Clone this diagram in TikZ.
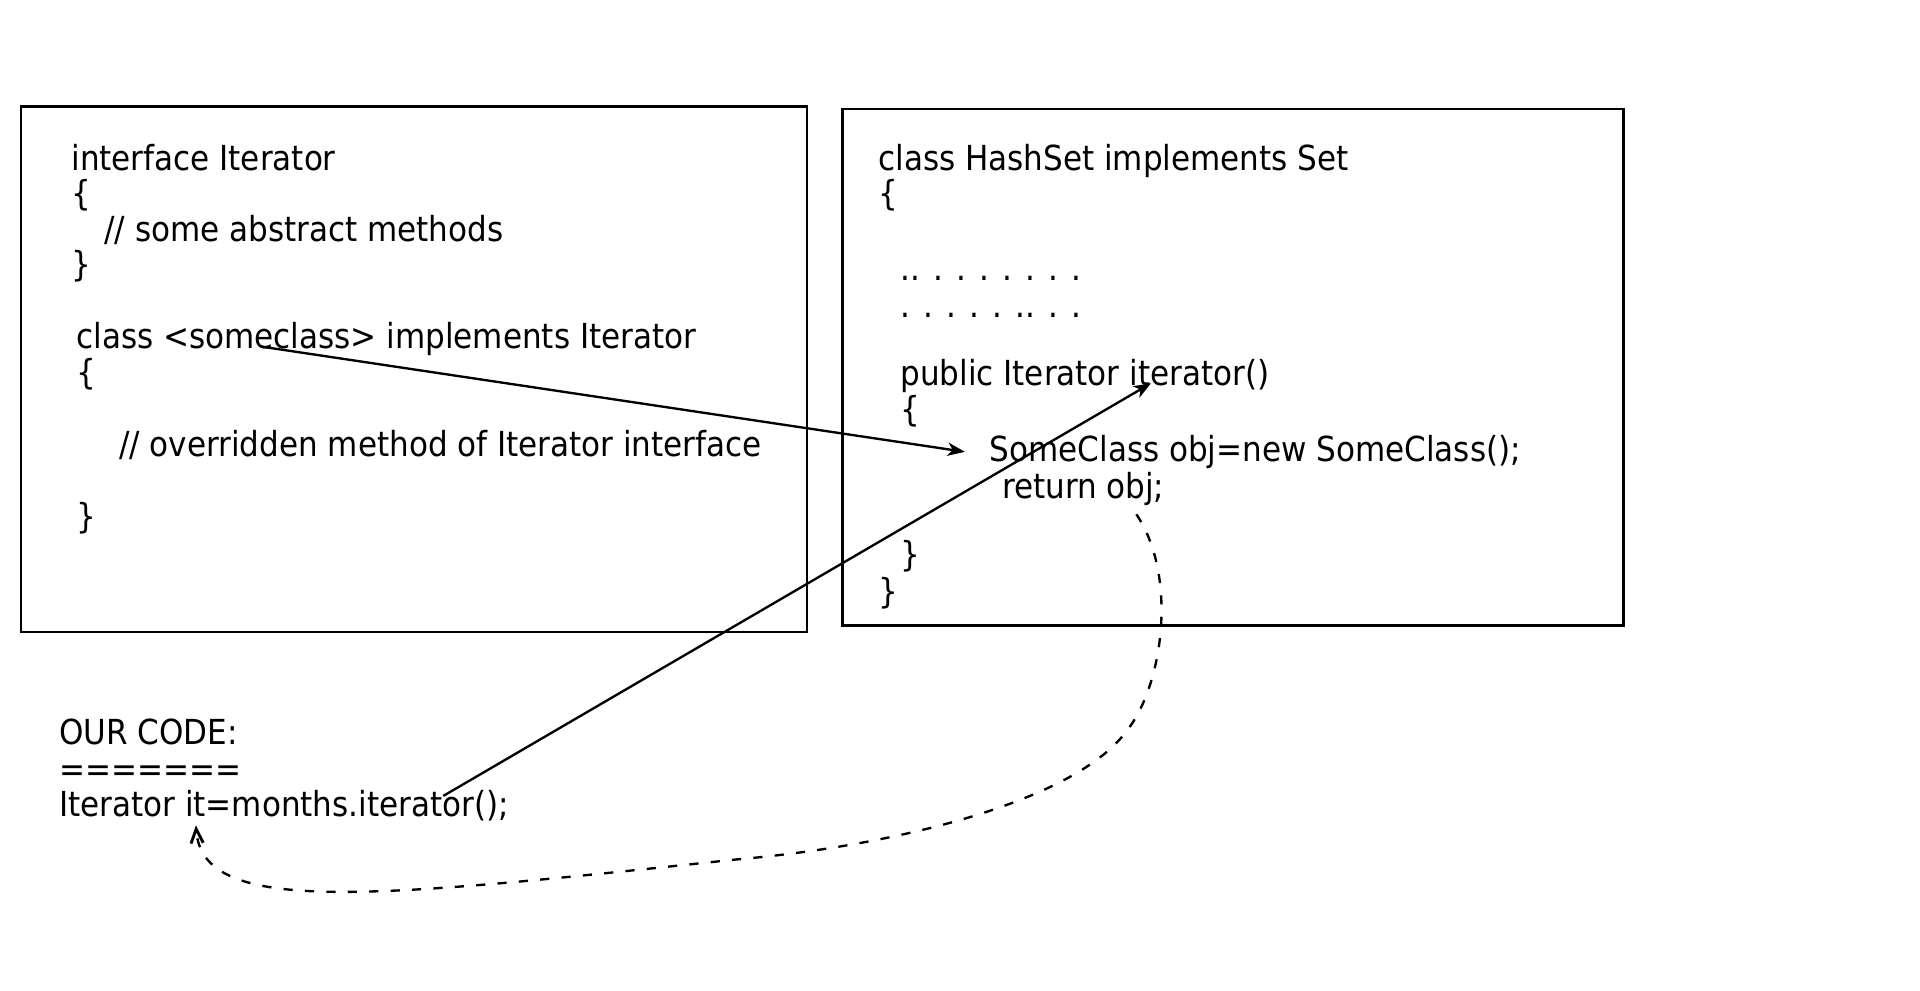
\documentclass[tikz,border=0pt]{standalone}
\usepackage{fontspec}
\setmainfont{DejaVu Sans Condensed}
\usetikzlibrary{arrows.meta,fit}

\begin{document}
\begin{tikzpicture}[x=0.6pt,y=-0.6pt,
  codeline/.style={anchor=base west,inner sep=0pt,font=\fontsize{16.9}{20}\selectfont},
  frame/.style={draw,line width=1.25pt,inner sep=0pt},
  link/.style={line width=1.15pt,-{Stealth[length=8.5pt,width=6.5pt,inset=2.5pt]}},
  giveback/.style={line width=1.15pt,dash pattern=on 4.5pt off 6pt,-{Straight Barb[length=7pt,width=6pt,line width=1.4pt]}}]

% canvas
\useasboundingbox (0,0) rectangle (1568,809);

% frames of the two code panels
\coordinate (lbA) at (17,87);   \coordinate (lbB) at (659,516);
\coordinate (rbA) at (688,89);  \coordinate (rbB) at (1326,511);
\node[frame,fit=(lbA)(lbB)] (leftbox) {};
\node[frame,fit=(rbA)(rbB)] (rightbox) {};

% interface and implementing class
\node[codeline] (l1) at (58,139) {interface Iterator};
\node[codeline] (l2) at (58,168) {\{};
\node[codeline] (l3) at (85,197) {// some abstract methods};
\node[codeline] (l4) at (58,226) {\}};
\node[codeline] (l5) at (62,285) {class <someclass> implements Iterator};
\node[codeline] (l6) at (62,314) {\{};
\node[codeline] (l7) at (97,373) {// overridden method of Iterator interface};
\node[codeline] (l8) at (62,432) {\}};

% HashSet
\node[codeline] (r1) at (717,139) {class HashSet implements Set};
\node[codeline] (r2) at (717,168) {\{};
\node[codeline] (r3) at (735,229) {.. . . . . . . .};
\node[codeline] (r4) at (735,259) {. . . . . .. . .};
\node[codeline] (r5) at (735,315) {public Iterator iterator()};
\node[codeline] (r6) at (735,344) {\{};
\node[codeline] (r7) at (808,377) {SomeClass obj=new SomeClass();};
\node[codeline] (r8) at (818,407) {return obj;};
\node[codeline] (r9) at (735,463) {\}};
\node[codeline] (r10) at (717,493) {\}};

% caller
\node[codeline] (b1) at (48,608) {OUR CODE:};
\node[codeline] (b2) at (48,638) {=======};
\node[codeline] (b3) at (48,667) {Iterator it=months.iterator();};

% connector ends
\coordinate (someclass) at (213,283);
\coordinate (newobj) at (788,369);
\coordinate (callsite) at (362,650);
\coordinate (itermethod) at (940,313);
\coordinate (retobj) at (928,420);
\coordinate (bend1) at (920,597);
\coordinate (bend2) at (600,702);
\coordinate (itvar) at (160,674);

\draw[link] (someclass) -- (newobj);
\draw[link] (callsite) -- (itermethod);
\draw[giveback] (retobj) .. controls (962,470) and (950,560) .. (bend1)
  .. controls (880,652) and (740,690) .. (bend2)
  .. controls (300,734) and (165,748) .. (itvar);
\end{tikzpicture}
\end{document}
